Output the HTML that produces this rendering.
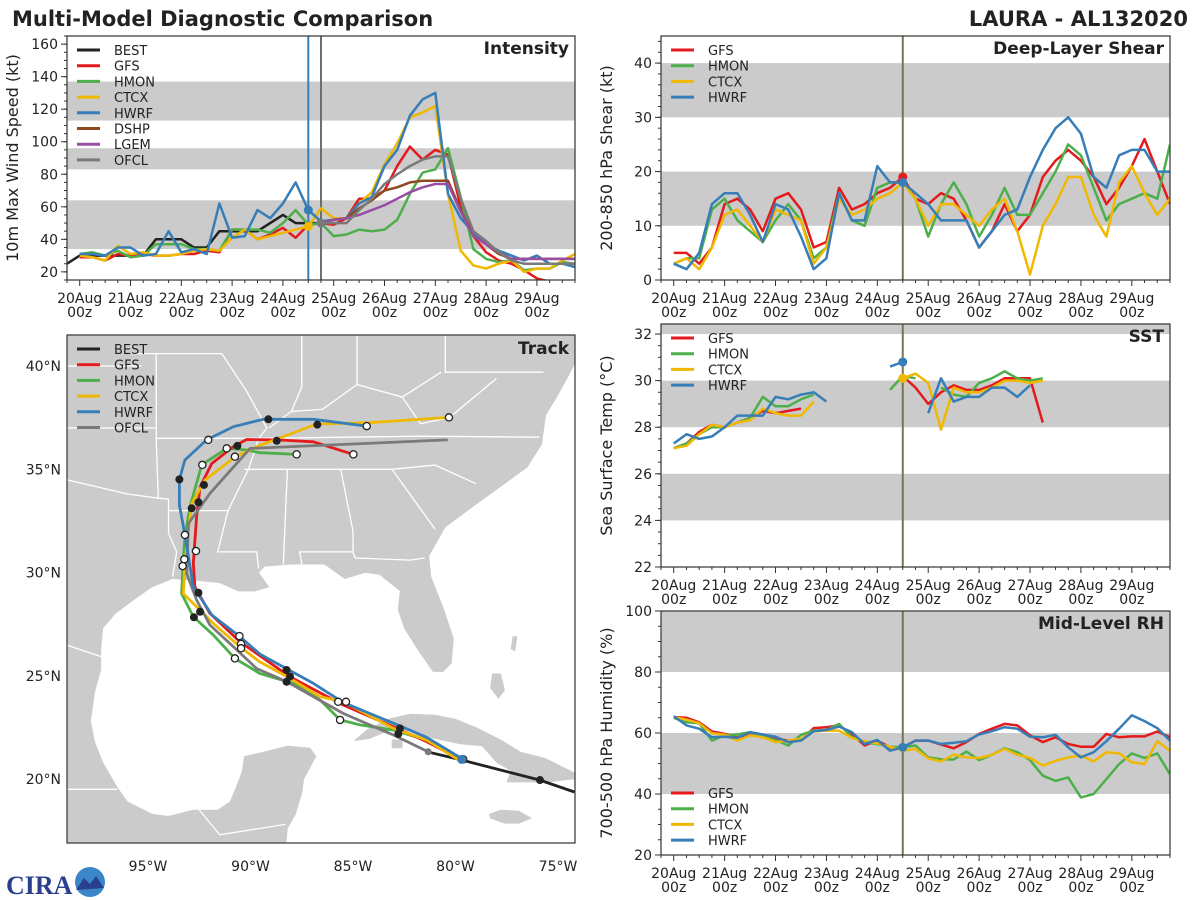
<!DOCTYPE html>
<html><head><meta charset="utf-8"><style>
html,body{margin:0;padding:0;background:#fff;}
svg{display:block;font-family:"DejaVu Sans","Liberation Sans",sans-serif;}
</style></head><body>
<svg id="fig" width="1200" height="900" viewBox="0 0 1200 900" xmlns="http://www.w3.org/2000/svg">
<text x="12" y="26" font-size="21" font-weight="bold" fill="#222">Multi-Model Diagnostic Comparison</text>
<text x="1188" y="26" font-size="21" font-weight="bold" fill="#222" text-anchor="end">LAURA - AL132020</text>
<g>
<text x="6" y="894" font-size="26" font-weight="bold" fill="#2b3f8f" font-family="Liberation Serif, serif">CIRA</text>
<circle cx="90" cy="882" r="15" fill="#3a86c8"/>
<path d="M76 890 L84 878 L90 884 L96 876 L104 888 Z" fill="#2b3f8f"/>
</g>
</svg>
<script>
const NS='http://www.w3.org/2000/svg';
const svg=document.getElementById('fig');
const C={BEST:'#222222',GFS:'#e41a1c',HMON:'#4daf4a',CTCX:'#f0b800',HWRF:'#377eb8',DSHP:'#8c4a1e',LGEM:'#984ea3',OFCL:'#7a7a7a'};
const dayLabels=['20Aug','21Aug','22Aug','23Aug','24Aug','25Aug','26Aug','27Aug','28Aug','29Aug'];
const N=null;
// ---------- Intensity data (kt), 6-hourly from 20Aug00z ----------
const intBestStart=-6;
const intBEST=[25,30,30,30,30,30,30,40,40,40,35,35,45,45,45,45,50,55,50,50,50];
const intGFS=[29,29,27,31,30,31,30,30,31,31,33,32,46,46,40,43,47,41,49,50,49,53,65,65,70,85,97,89,95,92,60,42,32,27,25,21,16,14];
const intHMON=[31,32,30,33,29,30,37,37,37,34,34,33,46,46,46,44,50,58,49,50,42,43,46,45,46,52,68,81,83,96,66,34,28,26,27,21,22,22,26,25];
const intCTCX=[30,29,27,36,31,32,30,30,31,33,34,33,41,46,40,42,44,46,48,59,53,53,62,69,86,99,115,118,122,68,33,24,22,25,27,20,22,22,27,31];
const intHWRF=[31,31,30,35,35,30,31,45,32,34,31,62,41,42,58,53,62,75,58,51,52,53,62,66,85,95,116,126,130,68,53,44,37,33,30,27,30,25,25,23];
const intDSHP=[N,N,N,N,N,N,N,N,N,N,N,N,N,N,N,N,N,N,N,50,52,53,59,64,70,72,75,76,76,76,58,42,37,31,28,28,28,28,28,28];
const intLGEM=[N,N,N,N,N,N,N,N,N,N,N,N,N,N,N,N,N,N,N,50,52,53,55,58,61,65,69,72,74,74,57,42,37,32,28,28,28,28,28,28];
const intOFCL=[N,N,N,N,N,N,N,N,N,N,N,N,N,N,N,N,N,N,N,50,50,50,58,65,74,80,85,89,91,91,65,45,39,32,27,25,25,25,25,25];
// ---------- Shear (kt) ----------
const shrGFS=[5,5,3,6,14,15,13,9,15,16,13,6,7,17,13,14,16,17,19,15,14,16,15,11,6,9,14,9,12,19,22,24,22,19,14,17,21,26,20,14];
const shrHMON=[3,4,4,13,15,11,9,7,11,14,11,4,6,16,11,10,17,18,18,15,8,14,18,14,8,12,17,12,12,16,20,25,23,17,11,14,15,16,15,25];
const shrCTCX=[3,4,2,6,12,13,10,7,13,12,11,3,6,15,12,13,15,16,18,15,10,14,14,12,10,13,15,9,1,10,14,19,19,12,8,18,21,16,12,15];
const shrHWRF=[3,2,5,14,16,16,12,7,14,13,8,2,4,16,11,11,21,18,18,16,14,11,11,11,6,9,12,13,19,24,28,30,27,19,17,23,24,24,20,20];
// ---------- SST (C) ----------
const sstGFS=[27.1,27.3,27.8,28.1,28.0,28.2,28.4,28.7,28.6,28.7,28.8,N,N,N,N,N,N,N,30.2,29.7,29.0,29.5,29.8,29.6,29.6,29.8,30.1,30.1,30.1,28.2];
const sstHMON=[27.1,27.3,27.7,28.0,28.0,28.2,28.4,29.3,28.9,28.9,29.2,29.4,N,N,N,N,N,29.6,30.2,30.1,N,29.7,29.4,29.3,29.9,30.1,30.4,30.1,30.0,30.1];
const sstCTCX=[27.1,27.2,27.7,28.1,28.0,28.2,28.3,28.8,28.6,28.5,28.5,29.1,N,N,N,N,N,N,30.1,30.3,29.9,27.9,29.7,29.5,29.5,29.7,30.0,30.0,29.9,30.0];
const sstHWRF=[27.3,27.7,27.5,27.6,28.0,28.5,28.5,28.5,29.3,29.2,29.4,29.5,29.1,N,N,N,N,30.6,30.8,N,28.6,30.1,29.1,29.3,29.3,29.7,29.7,29.3,29.8];
// ---------- RH (%) ----------
const rhGFS=[65.2,65,63.5,60.5,59.7,58.6,59.4,58.6,58.1,57.5,57.7,61.6,61.9,62.5,59.7,55.9,57.5,55.3,55.3,57.5,57.5,56.2,55,57,59.7,61.4,63,62.5,59.2,57,58.6,56.4,55.5,55.5,59.7,58.6,58.9,58.9,60.5,58.6];
const rhHMON=[65,63.5,63.2,57.5,59.2,59.5,60.3,58.8,57.7,55.9,59.4,60.8,61,63,58.6,57,56.4,55.5,55.3,55.9,52,51.4,51.3,53.9,51.1,52.9,55,53.7,51.1,46,44.3,45.4,38.9,40,44.9,49.8,53.3,51.8,53.3,46.5];
const rhCTCX=[65.2,64.4,63.2,59.9,59.4,57.5,59.2,58.6,57,57.5,58.1,60.5,60.8,60.8,58.4,57.3,56.6,55.5,54.2,54.8,51.7,50.7,52.9,52,51.8,52.9,54.8,52.9,51.8,49.3,50.9,52,52.6,50.7,53.7,53.3,50.4,49.8,57.3,54.2];
const rhHWRF=[65.5,62.5,61.4,58.6,58.8,58.4,60.3,59.5,58.8,57,57.5,60.6,61,62.1,60.3,56.4,57.7,54.2,55.3,57.5,57.5,56.4,56.8,57.3,59.5,60.6,61.9,61.4,58.8,58.6,59.4,55.3,52,53.7,57.3,61.4,65.8,63.9,61.6,57.5];
// ---------- Track (lon, lat) ----------
const trkBESTlon=[-74.2,-75.9,-79.7,-81.3], trkBESTlat=[19.37,19.95,20.92,21.3];
const trkHWRFlon=[-79.7,-81.41,-83.03,-85.47,-86.93,-89.54,-90.51,-91.89,-92.79,-93.2,-93.47,-93.47,-93.2,-92.14,-90.84,-89.38,-86.93,-84.33];
const trkHWRFlat=[21.0,22.02,22.7,23.7,24.63,26.05,26.89,27.94,29.31,31.82,33.27,34.51,35.45,36.42,37.06,37.42,37.42,37.09];
const trkGFSlon=[-79.7,-81.41,-83.03,-85.47,-88.07,-90.51,-91.98,-92.71,-92.79,-92.63,-92.46,-91.89,-90.84,-90.19,-88.72,-86.93,-84.98];
const trkGFSlat=[20.92,21.81,22.53,23.58,24.95,26.64,28.02,29.31,30.44,32.7,34.15,35.28,36.09,36.44,36.42,36.33,35.72];
const trkHMONlon=[-79.7,-81.41,-83.03,-84.66,-85.63,-86.61,-87.91,-89.54,-90.76,-91.81,-92.79,-93.36,-93.28,-93.2,-92.95,-92.38,-91.16,-90.19,-89.54,-87.75];
const trkHMONlat=[20.92,21.89,22.37,22.62,22.86,23.83,24.63,25.11,25.84,26.97,27.86,28.98,30.6,31.73,33.19,35.21,36.01,35.93,35.8,35.72];
const trkCTCXlon=[-79.7,-81.41,-83.03,-85.47,-86.61,-88.07,-89.54,-90.51,-91.81,-92.63,-93.28,-93.2,-93.03,-92.87,-92.22,-90.76,-89.7,-86.77,-84.33,-80.32];
const trkCTCXlat=[20.83,21.89,22.45,23.74,23.99,24.87,25.67,26.4,27.53,28.34,28.98,30.44,32.06,33.34,34.48,35.6,36.09,37.19,37.25,37.51];
const trkOFCLlon=[-81.33,-83.03,-85.47,-86.77,-88.23,-89.7,-90.67,-91.98,-92.63,-93.11,-93.03,-91.98,-90.02,-80.38];
const trkOFCLlat=[21.32,22.13,23.17,23.9,24.71,25.35,26.25,27.46,28.67,29.95,32.37,33.83,36.01,36.42];
const dotFilledLon=[-89.13,-86.74,-88.72,-90.64,-93.47,-92.27,-92.54,-92.87,-92.54,-92.46,-92.76,-88.24,-88.07,-88.24,-82.71,-82.79,-75.88];
const dotFilledLat=[37.42,37.16,36.38,36.13,34.51,34.24,33.4,33.11,29.02,28.1,27.83,25.28,24.96,24.71,22.45,22.18,19.95];
const dotOpenLon=[-80.32,-84.33,-92.06,-91.16,-90.76,-87.75,-84.98,-92.35,-93.2,-92.66,-93.23,-93.31,-90.54,-90.46,-90.46,-90.76,-85.72,-85.34,-85.63,-79.62];
const dotOpenLat=[37.51,37.09,36.42,36.01,35.61,35.72,35.72,35.21,31.82,31.04,30.64,30.31,26.92,26.54,26.33,25.84,23.74,23.74,22.86,20.95];

function el(tag,attrs,parent){const e=document.createElementNS(NS,tag);for(const k in attrs)e.setAttribute(k,attrs[k]);(parent||svg).appendChild(e);return e;}
function txt(s,attrs,parent){const e=el('text',attrs,parent);e.textContent=s;return e;}

function makePanel(o){
  const g=el('g',{});
  
  
  const cid='clip-'+o.name;
  const cp=el('clipPath',{id:cid},g);el('rect',{x:o.x0,y:o.y0,width:o.x1-o.x0,height:o.y1-o.y0},cp);
  const X=h=>o.x0+(h/24+0.25)/10*(o.x1-o.x0);
  const Y=v=>o.y1-(v-o.vmin)/(o.vmax-o.vmin)*(o.y1-o.y0);
  const inner=el('g',{'clip-path':'url(#'+cid+')'},g);
  o.bands.forEach(b=>{const r=el('rect',{x:o.x0,y:Y(b[1]),width:o.x1-o.x0,height:Y(b[0])-Y(b[1]),fill:'#cbcbcb'},inner);
    
    });
  o.vlines.forEach(v=>{const l=el('line',{x1:X(v[0]),x2:X(v[0]),y1:o.y0,y2:o.y1,stroke:v[1],'stroke-width':2},inner);
    
    });
  o.series.forEach(s=>{
    let segs=[],cur=[];
    s.vals.forEach((v,i)=>{if(v===null){if(cur.length)segs.push(cur);cur=[];}else cur.push(X((s.start||0)+i*6).toFixed(1)+','+Y(v).toFixed(1));});
    if(cur.length)segs.push(cur);
    segs.forEach(sg=>{const p=el('polyline',{points:sg.join(' '),fill:'none',stroke:C[s.key],'stroke-width':2.5,'stroke-linejoin':'round'},inner);
      
      });
  });
  (o.dots||[]).forEach(d=>{const vals=d[2];const c=el('circle',{cx:X(d[1]),cy:Y(vals[d[1]/6-(d[3]||0)/6]),r:4.5,fill:C[d[0]]},inner);
    
    });
  // frame
  el('rect',{x:o.x0,y:o.y0,width:o.x1-o.x0,height:o.y1-o.y0,fill:'none',stroke:'#333','stroke-width':1.2},g);
  // y ticks
  for(let v=o.vmin;v<=o.vmax+1e-6;v+=o.minor){const y=Y(v);if(y<o.y0-0.5)continue;el('line',{x1:o.x0-3,x2:o.x0,y1:y,y2:y,stroke:'#333','stroke-width':1},g);}
  o.yticks.forEach(v=>{const y=Y(v);el('line',{x1:o.x0-6,x2:o.x0,y1:y,y2:y,stroke:'#333','stroke-width':1},g);
    const t=txt(String(v),{x:o.x0-9,y:y+5,'font-size':14,'text-anchor':'end',fill:'#222'},g);
    
    });
  // x ticks
  for(let h=-6;h<=234;h+=6){const x=X(h);const maj=h%24===0;el('line',{x1:x,x2:x,y1:o.y1,y2:o.y1+(maj?6:3),stroke:'#333','stroke-width':1},g);}
  dayLabels.forEach((d,i)=>{const x=X(i*24);
    const a=txt(d,{x:x,y:o.y1+23,'font-size':14,'text-anchor':'middle',fill:'#222'},g);
    
    
    const b=txt('00z',{x:x,y:o.y1+37,'font-size':14,'text-anchor':'middle',fill:'#222'},g);
    
    });
  const yl=txt(o.ylabel,{x:0,y:0,'font-size':16,'text-anchor':'middle',fill:'#222',transform:'translate('+(o.x0-49)+','+((o.y0+o.y1)/2)+') rotate(-90)'},g);
  
  
  const pt=txt(o.title,{x:o.x1-6,y:o.y0+18,'font-size':17,'font-weight':'bold','text-anchor':'end',fill:'#222'},g);
  
  
  legend(g,o.x0,o.legendY,o.series.map(s=>s.key));
  return g;
}
function legend(g,x0,y0,keys){
  const lg=el('g',{},g);
  
  
  keys.forEach((k,i)=>{const y=y0+i*15.7;
    el('line',{x1:x0+10,x2:x0+33,y1:y,y2:y,stroke:C[k],'stroke-width':3},lg);
    const t=txt(k,{x:x0+47,y:y+5,'font-size':13,fill:'#222'},lg);
    
    });
}
makePanel({name:'intensity-panel',x0:67,x1:575,y0:36,y1:280,vmin:15,vmax:165,minor:5,yticks:[20,40,60,80,100,120,140,160],
  bands:[[34,64],[83,96],[113,137]],vlines:[[108,'#377eb8'],[114,'#6f6f6f']],ylabel:'10m Max Wind Speed (kt)',title:'Intensity',legendY:50,
  series:[{key:'BEST',vals:intBEST,start:intBestStart},{key:'GFS',vals:intGFS},{key:'HMON',vals:intHMON},{key:'CTCX',vals:intCTCX},{key:'HWRF',vals:intHWRF},{key:'DSHP',vals:intDSHP},{key:'LGEM',vals:intLGEM},{key:'OFCL',vals:intOFCL}],
  dots:[['HWRF',108,intHWRF],['CTCX',108,intCTCX],['OFCL',114,intOFCL]]});
makePanel({name:'shear-panel',x0:661,x1:1170,y0:36,y1:280,vmin:0,vmax:45,minor:2,yticks:[0,10,20,30,40],
  bands:[[10,20],[30,40]],vlines:[[108,'#7a7550']],ylabel:'200-850 hPa Shear (kt)',title:'Deep-Layer Shear',legendY:50,
  series:[{key:'GFS',vals:shrGFS},{key:'HMON',vals:shrHMON},{key:'CTCX',vals:shrCTCX},{key:'HWRF',vals:shrHWRF}],
  dots:[['GFS',108,shrGFS],['HWRF',108,shrHWRF]]});
makePanel({name:'sst-panel',x0:661,x1:1170,y0:324,y1:567,vmin:22,vmax:32.43,minor:0.5,yticks:[22,24,26,28,30,32],
  bands:[[24,26],[28,30],[32,34]],vlines:[[108,'#7a7550']],ylabel:'Sea Surface Temp (°C)',title:'SST',legendY:338,
  series:[{key:'GFS',vals:sstGFS},{key:'HMON',vals:sstHMON},{key:'CTCX',vals:sstCTCX},{key:'HWRF',vals:sstHWRF}],
  dots:[['HWRF',108,sstHWRF],['CTCX',108,sstCTCX]]});
makePanel({name:'rh-panel',x0:661,x1:1170,y0:611,y1:855,vmin:20,vmax:100,minor:5,yticks:[20,40,60,80,100],
  bands:[[40,60],[80,100]],vlines:[[108,'#7a7550']],ylabel:'700-500 hPa Humidity (%)',title:'Mid-Level RH',legendY:793,
  series:[{key:'GFS',vals:rhGFS},{key:'HMON',vals:rhHMON},{key:'CTCX',vals:rhCTCX},{key:'HWRF',vals:rhHWRF}],
  dots:[['HWRF',108,rhHWRF]]});

// ---------- Track map ----------
const TX0=67,TX1=575,TY0=335,TY1=843;
const LX=lon=>148+(lon+95)*20.5;
const LY=lat=>779-(lat-20)*20.65;
const landMain=[[-99,42],[-74,42],[-74,40.5],[-74.5,39.5],[-75,38.6],[-75.6,37.6],[-75.8,36.2],[-76.5,35.1],[-77.6,34.3],[-79,33.3],[-80.5,32.2],[-81.3,30.8],[-81.2,29.8],[-80.6,28.3],[-80.1,26.8],[-80.2,25.6],[-80.6,25.2],[-81.1,25.2],[-81.8,26.2],[-82.5,27.3],[-82.8,28.2],[-82.7,29.1],[-83.7,29.9],[-84.4,30.0],[-85.4,29.7],[-86.4,30.4],[-88.0,30.4],[-89.3,30.3],[-89.6,30.0],[-89.1,29.3],[-89.8,29.1],[-90.6,29.1],[-91.5,29.5],[-92.5,29.6],[-93.8,29.7],[-94.8,29.3],[-95.8,28.6],[-96.6,28.0],[-97.2,27.3],[-97.3,26.3],[-97.3,25.3],[-97.6,24.2],[-97.8,22.8],[-97.6,21.8],[-97.2,20.8],[-96.5,19.6],[-96.0,18.9],[-94.8,18.3],[-94.0,18.2],[-92.8,18.5],[-91.6,18.5],[-91.0,18.9],[-90.7,19.6],[-90.4,20.4],[-90.3,21.1],[-89.4,21.3],[-88.2,21.6],[-87.1,21.5],[-86.8,21.1],[-87.4,20.0],[-87.5,19.3],[-87.8,18.3],[-88.2,17.6],[-88.3,16.5],[-99,16.5]];
const landCuba=[[-84.95,21.85],[-84.3,22.4],[-83.3,22.9],[-82.2,23.15],[-81.0,23.1],[-80.0,22.9],[-79.0,22.5],[-77.8,21.9],[-76.8,21.3],[-75.6,21.0],[-74.2,20.3],[-74.2,20.0],[-75.5,19.85],[-77.5,19.85],[-77.3,20.4],[-78.0,20.8],[-78.7,21.6],[-79.8,21.7],[-81.2,22.0],[-81.9,22.3],[-82.9,22.5],[-84.2,21.95]];
const landJamaica=[[-78.35,18.3],[-77.8,18.5],[-76.9,18.45],[-76.3,18.1],[-76.9,17.85],[-77.6,17.85],[-78.3,18.1]];
const landHisp=[[-74.2,20.1],[-73.9,20.1],[-73.9,19.6],[-74.2,19.6]];
const landAndros=[[-78.2,25.1],[-77.8,25.1],[-77.6,24.3],[-77.9,23.9],[-78.3,24.4]];
const landAbaco=[[-77.2,26.9],[-77.0,26.9],[-77.1,26.2],[-77.3,26.3]];
const landIsla=[[-83.1,21.9],[-82.6,21.9],[-82.6,21.5],[-83.1,21.5]];
const borders=[
 [[-94.6,36.5],[-89.5,36.5],[-81.7,36.6],[-75.9,36.55]],
 [[-94.0,33.0],[-91.1,33.0]],
 [[-94.6,40.6],[-94.6,36.5],[-94.5,33.6],[-94.0,33.55],[-94.0,31.9],[-93.6,31.0],[-93.8,29.8]],
 [[-91.1,33.0],[-91.6,31.0],[-89.7,31.0],[-89.6,30.2]],
 [[-88.2,35.0],[-88.4,30.4]],
 [[-85.6,35.0],[-85.0,32.0],[-85.0,31.0],[-87.6,31.0],[-87.5,30.4]],
 [[-85.0,31.0],[-84.9,30.7],[-82.2,30.6],[-81.5,30.7]],
 [[-90.3,35.0],[-83.1,35.0],[-81.0,35.2],[-79.0,34.3]],
 [[-83.1,35.0],[-81.0,32.1]],
 [[-89.1,37.0],[-88.0,37.8],[-86.5,37.9],[-84.8,39.1],[-82.6,38.5],[-80.7,39.7]],
 [[-99,37.0],[-94.6,37.0]],
 [[-99,34.5],[-96.0,33.8],[-94.5,33.6]],
 [[-80.5,42],[-80.5,39.7],[-75.7,39.7]],
 [[-87.5,41.7],[-87.5,39.0],[-88.0,37.8]],
 [[-84.8,41.7],[-84.8,39.1]],
 [[-91.4,40.6],[-90.2,38.8],[-89.2,37.0],[-89.6,36.5],[-90.1,35.0],[-91.1,33.0]],
 [[-95.8,40.6],[-91.4,40.6]],
 [[-99,40.0],[-95.3,40.0]],
 [[-99,26.5],[-97.2,25.9]],
 [[-82.6,38.5],[-81.7,37.2],[-80.3,37.5],[-78.0,39.4]],
 [[-99,19.5],[-96.5,19.5]],[[-92.5,18.5],[-91.5,17.3],[-88.3,17.8]]];
const tg=el('g',{});


const tclip=el('clipPath',{id:'clip-track'},tg);el('rect',{x:TX0,y:TY0,width:TX1-TX0,height:TY1-TY0},tclip);
const tin=el('g',{'clip-path':'url(#clip-track)'},tg);
el('rect',{x:TX0,y:TY0,width:TX1-TX0,height:TY1-TY0,fill:'#fff'},tin);
function poly(pts,name){const p=el('polygon',{points:pts.map(q=>LX(q[0]).toFixed(1)+','+LY(q[1]).toFixed(1)).join(' '),fill:'#cbcbcb',stroke:'#cbcbcb','stroke-width':0.5},tin);
  
  }
poly(landMain,'land-north-america');poly(landCuba,'land-cuba');poly(landJamaica,'land-jamaica');poly(landHisp,'land-hispaniola');poly(landAndros,'land-bahamas');poly(landAbaco,'land-bahamas');poly(landIsla,'land-isla-juventud');
borders.forEach(b=>{const l=el('polyline',{points:b.map(q=>LX(q[0]).toFixed(1)+','+LY(q[1]).toFixed(1)).join(' '),fill:'none',stroke:'#fff','stroke-width':1.3},tin);
  
  });
function track(key,lons,lats){const p=el('polyline',{points:lons.map((v,i)=>LX(v).toFixed(1)+','+LY(lats[i]).toFixed(1)).join(' '),fill:'none',stroke:C[key],'stroke-width':2.8,'stroke-linejoin':'round'},tin);
  
  }
track('BEST',trkBESTlon,trkBESTlat);
track('HMON',trkHMONlon,trkHMONlat);
track('GFS',trkGFSlon,trkGFSlat);
track('CTCX',trkCTCXlon,trkCTCXlat);
track('OFCL',trkOFCLlon,trkOFCLlat);
track('HWRF',trkHWRFlon,trkHWRFlat);
dotFilledLon.forEach((v,i)=>{const c=el('circle',{cx:LX(v),cy:LY(dotFilledLat[i]),r:4,fill:'#222'},tin);
  
  });
dotOpenLon.forEach((v,i)=>{const c=el('circle',{cx:LX(v),cy:LY(dotOpenLat[i]),r:3.6,fill:'#fff',stroke:'#222','stroke-width':1.3},tin);
  
  });
el('circle',{cx:LX(-79.7),cy:LY(20.95),r:4.5,fill:C.HWRF},tin);
el('circle',{cx:LX(-81.33),cy:LY(21.32),r:3.5,fill:C.OFCL},tin);
el('rect',{x:TX0,y:TY0,width:TX1-TX0,height:TY1-TY0,fill:'none',stroke:'#333','stroke-width':1.2},tg);
const latTicks=[20,25,30,35,40],lonTicks=[-95,-90,-85,-80,-75];
latTicks.forEach(v=>{const t=txt(v+'°N',{x:TX0-6,y:LY(v)+5,'font-size':14,'text-anchor':'end',fill:'#222'},tg);
  
  });
lonTicks.forEach(v=>{const t=txt((-v)+'°W',{x:LX(v),y:871,'font-size':14,'text-anchor':'middle',fill:'#222'},tg);
  
  });
const tt=txt('Track',{x:TX1-6,y:TY0+19,'font-size':17,'font-weight':'bold','text-anchor':'end',fill:'#222'},tg);


legend(tg,TX0,349,['BEST','GFS','HMON','CTCX','HWRF','OFCL']);
</script>
</body></html>
